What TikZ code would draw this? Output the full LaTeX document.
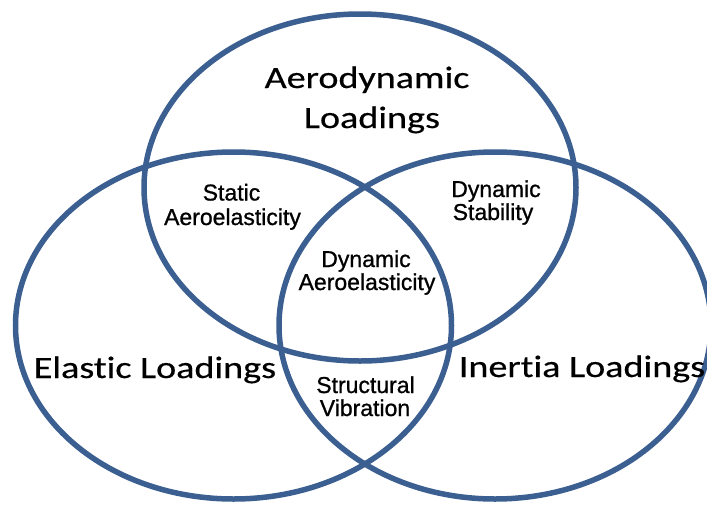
\documentclass[tikz,border=0pt]{standalone}
\usepackage{fontspec}
\setmainfont{Liberation Sans}
\newfontfamily\bigfont[Ligatures=NoCommon,FakeBold=0.4]{Carlito}
\newfontfamily\smallfont[FakeBold=0.9]{Liberation Sans}
\definecolor{vennblue}{RGB}{60,95,145}
\newcommand{\stretchx}[1]{\scalebox{1.23}[1]{#1}}
\begin{document}
\begin{tikzpicture}[x=1pt,y=-1pt,
  ring/.style={draw=vennblue, line width=5.5pt},
  biglbl/.style={anchor=base, inner sep=0pt, font=\bigfont\fontsize{31}{36}\selectfont},
  smalllbl/.style={anchor=base, inner sep=0pt, font=\smallfont\fontsize{23}{24}\selectfont}]
\useasboundingbox (0,0) rectangle (707,507);
\fill[white] (0,0) rectangle (707,507);
\begin{scope}
\clip (0,0) rectangle (707,507);
\draw[ring] (360,187.5) ellipse [x radius=216, y radius=173.5];
\draw[ring] (233.5,325.5) ellipse [x radius=218, y radius=173.5];
\draw[ring] (495,325.5) ellipse [x radius=216, y radius=173.5];
\end{scope}
% big labels
\node[biglbl] (aero1) at (367,88) {\stretchx{Aerodynamic}};
\node[biglbl] (aero2) at (372,128) {\stretchx{Loadings}};
\node[biglbl] (elastic) at (155,378) {\stretchx{Elastic Loadings}};
\node[biglbl] (inertia) at (582,377) {\stretchx{Inertia Loadings}};
% small labels
\node[smalllbl] (sa1) at (231.5,200.5) {Static};
\node[smalllbl] (sa2) at (232.5,225) {Aeroelasticity};
\node[smalllbl] (ds1) at (496,197) {Dynamic};
\node[smalllbl] (ds2) at (493,220) {Stability};
\node[smalllbl] (da1) at (366,267) {Dynamic};
\node[smalllbl] (da2) at (367,290) {Aeroelasticity};
\node[smalllbl] (sv1) at (365.5,393) {Structural};
\node[smalllbl] (sv2) at (365,416) {Vibration};
\end{tikzpicture}
\end{document}
